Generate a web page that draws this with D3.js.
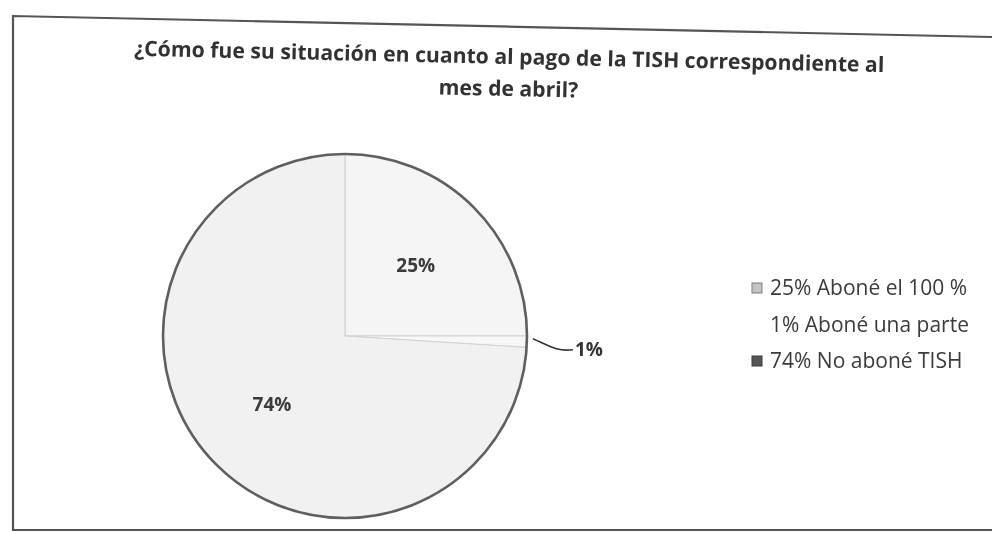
<!DOCTYPE html>
<html>
<head>
<meta charset="utf-8">
<script src="https://cdn.jsdelivr.net/npm/d3@7"></script>
<style>
  html, body { margin: 0; padding: 0; background: #fff; }
  svg { display: block; }
</style>
</head>
<body>
<script>
'use strict';

// data
const categories = ['Aboné el 100 %', 'Aboné una parte', 'No aboné TISH'];
const percents = [25, 1, 74];
const titleLines = ['¿Cómo fue su situación en cuanto al pago de la TISH correspondiente al', 'mes de abril?'];

const width = 992, height = 533;

const svg = d3.select('body').append('svg')
    .attr('width', width)
    .attr('height', height)
    .attr('viewBox', [0, 0, width, height])
    .style('font-family', '"Open Sans", sans-serif');

// soft blur so it looks a bit like the photocopy
const defs = svg.append('defs');
defs.append('filter').attr('id', 'scan')
  .append('feGaussianBlur').attr('stdDeviation', 0.6);

const g = svg.append('g').attr('filter', 'url(#scan)');

// frame (top edge is skewed in the scan)
g.append('path')
    .attr('d', 'M992,37 L13,16 L13,530 L992,530')
    .attr('fill', 'none')
    .attr('stroke', '#555')
    .attr('stroke-width', 2.2);

// title
const title = g.append('g').attr('transform', 'rotate(1.25, 509, 66)');
title.selectAll('text')
  .data(titleLines)
  .join('text')
    .attr('x', 509)
    .attr('y', (d, i) => 64 + i * 32)
    .attr('text-anchor', 'middle')
    .attr('font-size', 21.2)
    .attr('font-weight', 700)
    .attr('fill', '#333')
    .text(d => d);

// pie
const cx = 345, cy = 336, r = 182;
const color = d3.scaleOrdinal(categories, ['#f5f5f5', '#f8f8f8', '#f1f1f1']);
const pie = d3.pie().sort(null).value(d => d)(percents);
const arc = d3.arc().innerRadius(0).outerRadius(r);
const labelArc = d3.arc().innerRadius(r * 0.55).outerRadius(r * 0.55);

const pg = g.append('g').attr('transform', `translate(${cx},${cy})`);
pg.selectAll('path.slice')
  .data(pie)
  .join('path')
    .attr('class', 'slice')
    .attr('d', arc)
    .attr('fill', (d, i) => color(categories[i]))
    .attr('stroke', '#d2d2d2')
    .attr('stroke-width', 1.2);

pg.append('circle')
    .attr('r', r)
    .attr('fill', 'none')
    .attr('stroke', '#5e5e5e')
    .attr('stroke-width', 2.6);

// labels inside the big slices
pg.selectAll('text.lbl')
  .data(pie.filter(d => d.data >= 5))
  .join('text')
    .attr('class', 'lbl')
    .attr('transform', d => `translate(${labelArc.centroid(d)})`)
    .attr('text-anchor', 'middle')
    .attr('dy', '0.35em')
    .attr('font-size', 19)
    .attr('font-weight', 700)
    .attr('fill', '#3a3a3a')
    .text(d => d.data + '%');

// small slice gets a leader line
const small = pie.filter(d => d.data < 5);
const outer = d3.arc().innerRadius(r).outerRadius(r);
small.forEach(d => {
  const [x0, y0] = outer.centroid(d);
  pg.append('path')
      .attr('d', `M${x0 + 6},${y0 - 3} C${x0 + 22},${y0 + 4} ${x0 + 30},${y0 + 10} ${x0 + 46},${y0 + 8}`)
      .attr('fill', 'none')
      .attr('stroke', '#333')
      .attr('stroke-width', 1.6);
  pg.append('text')
      .attr('x', x0 + 48)
      .attr('y', y0 + 8)
      .attr('dy', '0.35em')
      .attr('font-size', 19)
      .attr('font-weight', 700)
      .attr('fill', '#333')
      .text(d.data + '%');
});

// legend
const legendFill = ['#c4c4c4', 'none', '#575757'];
const legendStroke = ['#7a7a7a', 'none', '#3a3a3a'];
const lg = g.append('g').attr('transform', 'translate(752,288)');
const row = lg.selectAll('g')
  .data(categories)
  .join('g')
    .attr('transform', (d, i) => `translate(0,${i * 36.5})`);
row.append('rect')
    .attr('x', 0).attr('y', -5)
    .attr('width', 10).attr('height', 10)
    .attr('fill', (d, i) => legendFill[i])
    .attr('stroke', (d, i) => legendStroke[i])
    .attr('stroke-width', 1);
row.append('text')
    .attr('x', 18)
    .attr('dy', '0.35em')
    .attr('font-size', 21)
    .attr('fill', '#3a3a3a')
    .text((d, i) => `${percents[i]}% ${d}`);
</script>
</body>
</html>
